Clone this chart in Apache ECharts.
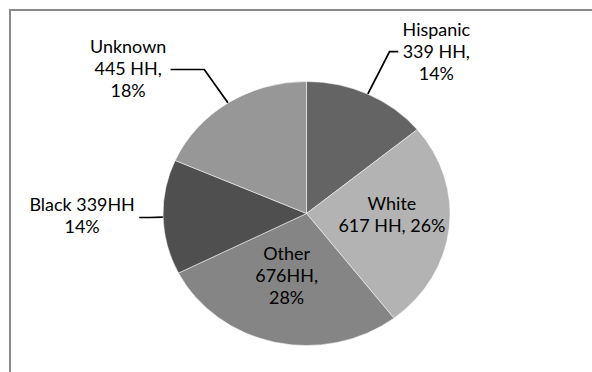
<!DOCTYPE html>
<html>
<head>
<meta charset="UTF-8">
<title>Households by race</title>
<style>
    html,body{margin:0;padding:0;width:592px;height:372px;overflow:hidden;background:#fff;}
    .frame{position:absolute;left:9px;top:9px;width:640px;height:420px;border:2px solid #8a8a8a;box-sizing:border-box;}
    /* the source picture is stretched sideways, so the pie is drawn round and stretched the same way */
    #chart{position:absolute;left:0;top:0;width:545px;height:372px;transform:scaleX(1.087);transform-origin:0 0;}
</style>
</head>
<body>
<div class="frame"></div>
<div id="chart"></div>
<script src="https://cdn.jsdelivr.net/npm/echarts@6/dist/echarts.min.js"></script>
<script>
    // data, clockwise from 12 o'clock
    let names  = ['Hispanic', 'White', 'Other', 'Black', 'Unknown'];
    let values = [339, 617, 676, 339, 445];
    let labelText = [
        ['Hispanic', '339 HH,', '14%'],
        ['White', '617 HH, 26%'],
        ['Other', '676HH,', '28%'],
        ['Black 339HH', '14%'],
        ['Unknown', '445 HH,', '18%']
    ];

    let colors = ['#646464', '#b3b3b3', '#858585', '#4f4f4f', '#979797'];
    let inside = [false, true, true, false, false];
    let lineLen = [[47, 8], null, null, [12, 10], [40, 31]];
    let shift = [{}, {dx: 10, dy: -7}, {dx: -3, dy: -5}, {dy: -2}, {dy: -1}];

    let chart = echarts.init(document.getElementById('chart'), null, {renderer: 'svg'});

    let data = [];
    for (let i = 0; i < names.length; i++) {
        let item = {
            name: names[i],
            value: values[i],
            itemStyle: {color: colors[i]},
            label: {position: inside[i] ? 'inside' : 'outside'}
        };
        if (lineLen[i]) item.labelLine = {length: lineLen[i][0], length2: lineLen[i][1]};
        data.push(item);
    }

    chart.setOption({
        animation: false,
        series: [{
            type: 'pie',
            center: [282, 213.5],
            radius: 132,
            startAngle: 90,
            clockwise: true,
            avoidLabelOverlap: false,
            itemStyle: {borderColor: '#ffffff', borderWidth: 0.5},
            label: {
                show: true,
                distanceToLabelLine: 4,
                formatter: function (p) {
                    return labelText[p.dataIndex].map(function (s) { return '{c|' + s + '}'; }).join('\n');
                },
                rich: {
                    c: {align: 'center', fontFamily: 'Lato', fontSize: 16.5, lineHeight: 22, color: '#000'}
                }
            },
            labelLine: {show: true, lineStyle: {color: '#000', width: 1.6}},
            labelLayout: function (p) {
                return shift[p.dataIndex];
            },
            data: data
        }]
    });
</script>
</body>
</html>
